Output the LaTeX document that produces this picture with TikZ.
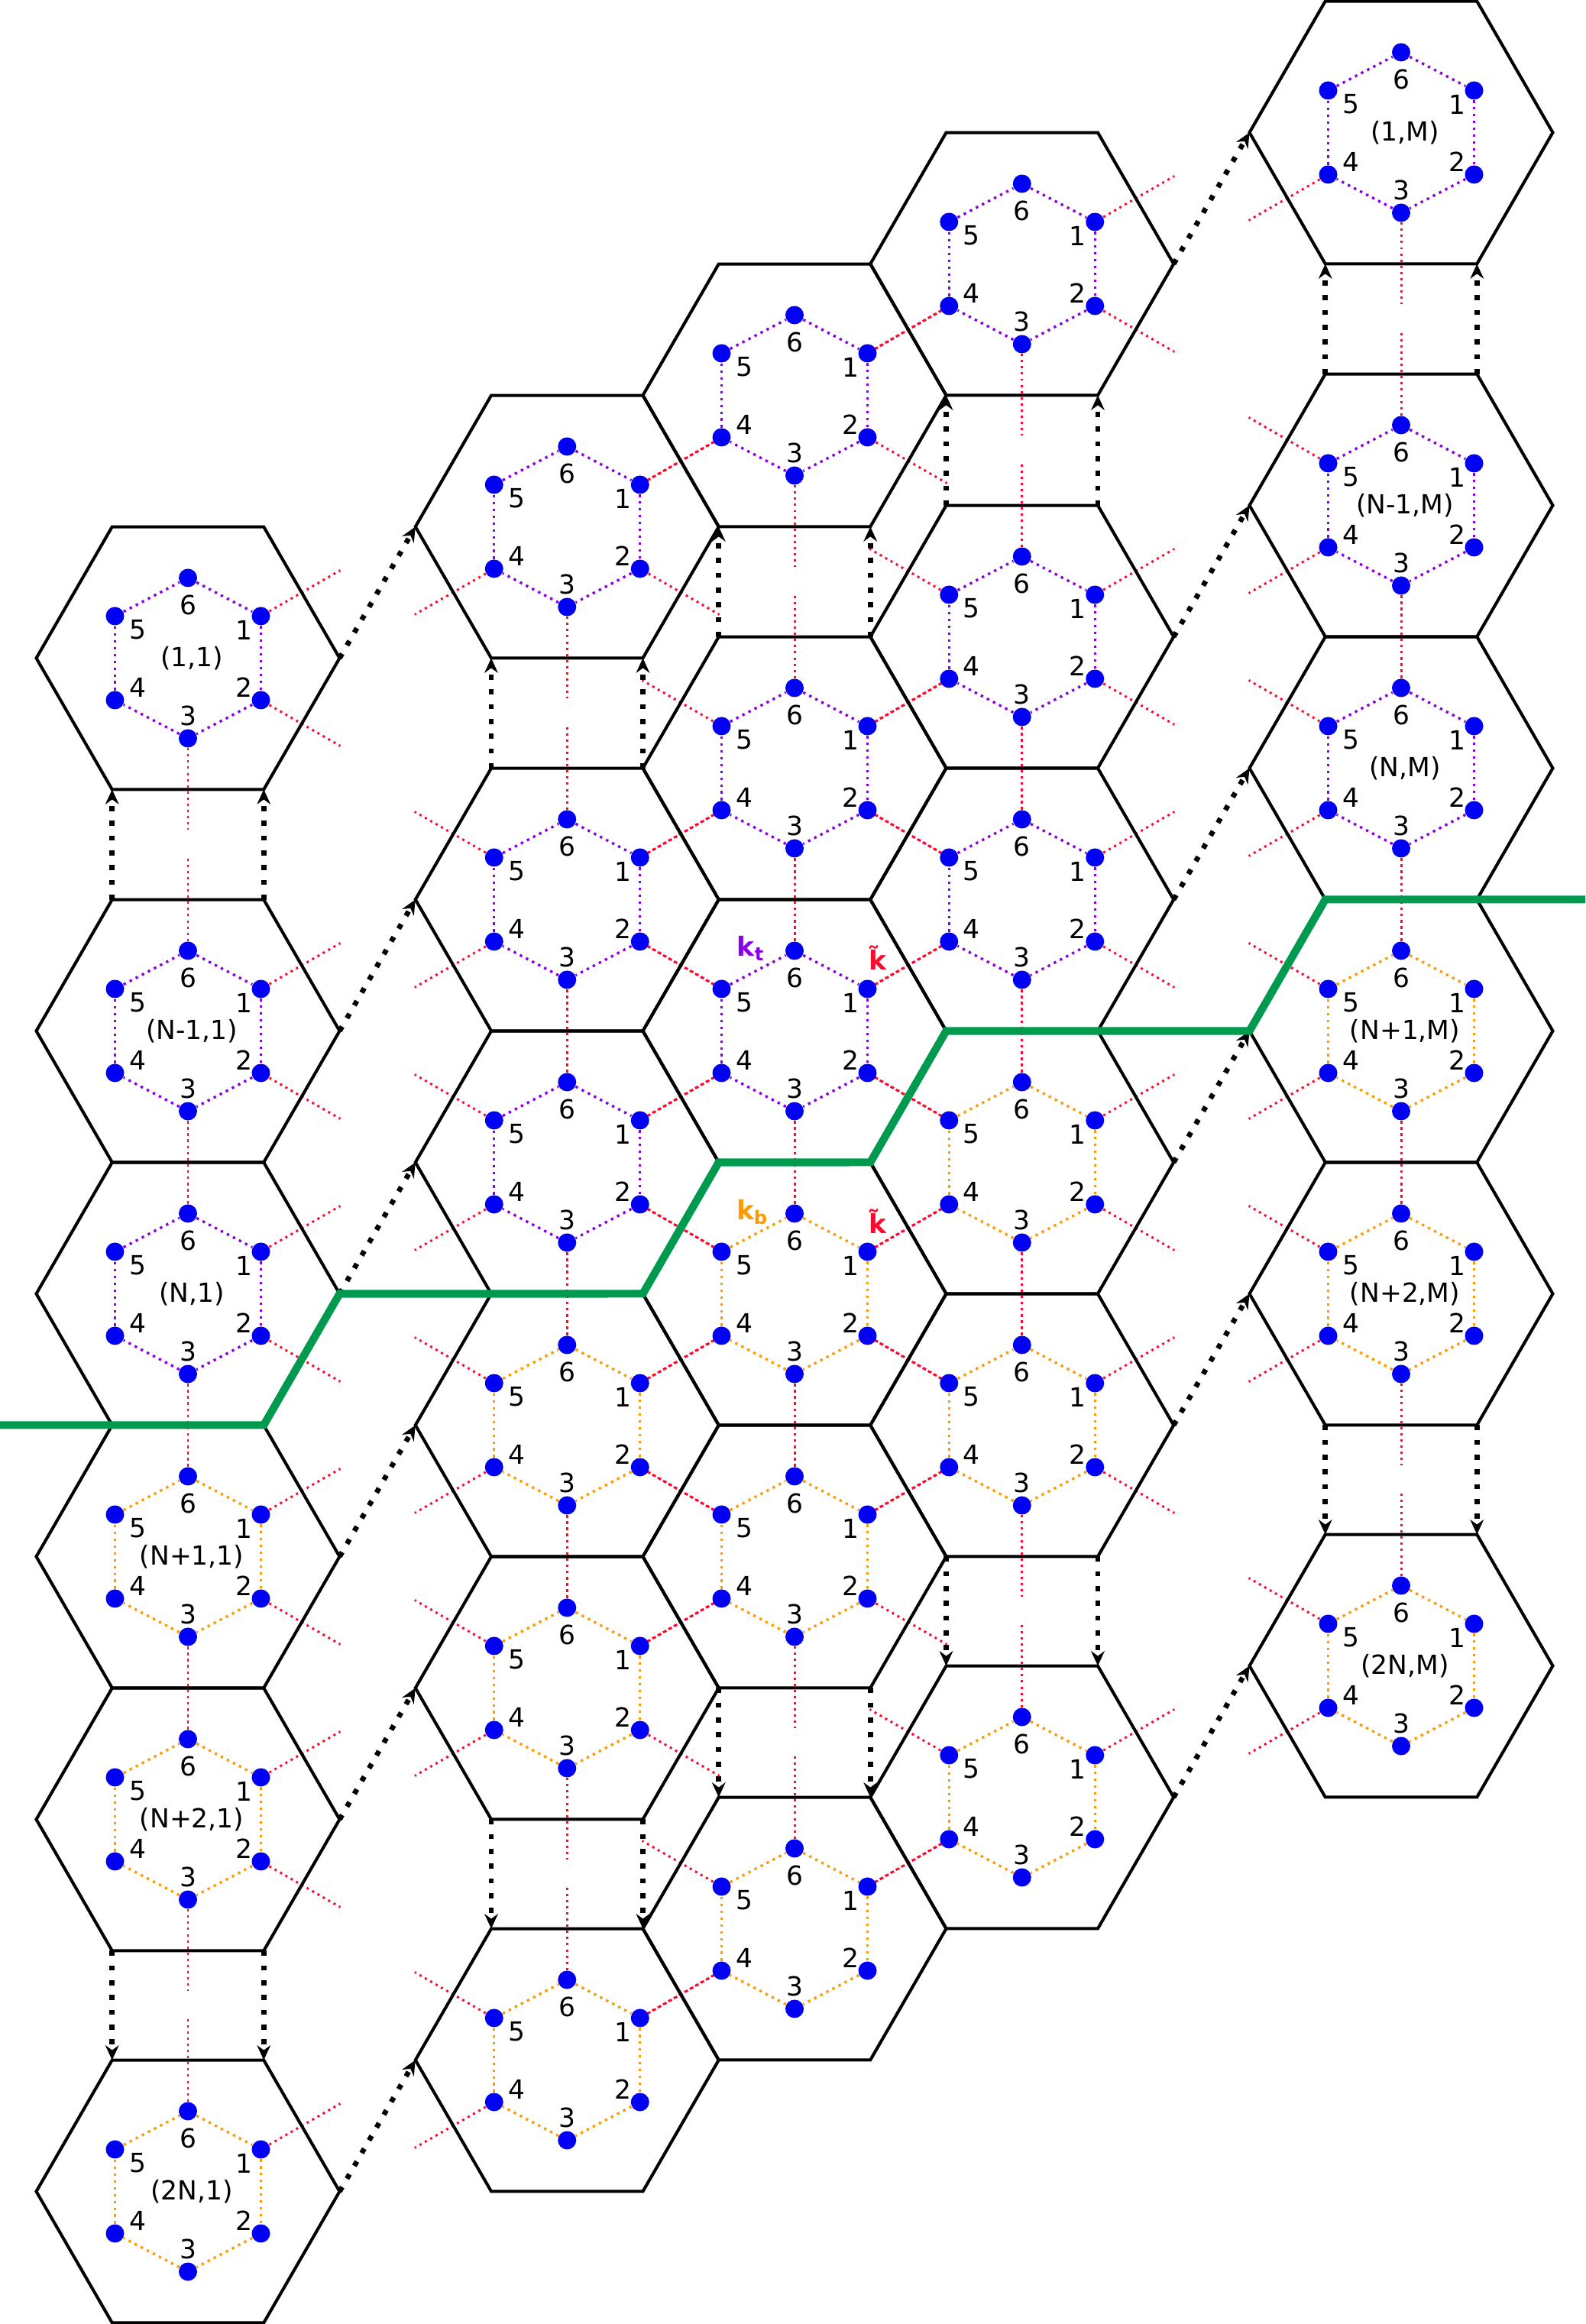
\documentclass[tikz,border=0pt]{standalone}
\usepackage{fontspec}
\setmainfont{DejaVu Sans}
\usetikzlibrary{arrows.meta,shapes.geometric,backgrounds}
\definecolor{ringtop}{HTML}{8A00E6}
\definecolor{ringbot}{HTML}{FF9A00}
\definecolor{bondred}{HTML}{FF0A2E}
\definecolor{cutgreen}{HTML}{009A4E}
\definecolor{sitedot}{HTML}{0000F5}

\begin{document}
\begin{tikzpicture}[
  cell/.style={regular polygon,regular polygon sides=6,draw,line width=1.15pt,minimum size=3.97cm,inner sep=0pt,outer sep=0pt},
  site/.style={circle,fill=sitedot,minimum size=2.4mm,inner sep=0pt},
  num/.style={inner sep=0pt,font=\fontsize{9.8}{12}\selectfont},
  kay/.style={inner sep=0pt,font=\fontsize{9.8}{12}\selectfont\bfseries},
  ring/.style={line width=0.95pt,dash pattern=on 0.95pt off 1.6pt},
  bond/.style={draw=bondred,line width=0.85pt,dash pattern=on 0.85pt off 1.45pt},
  hop/.style={line width=1.9pt,dash pattern=on 1.9pt off 3.6pt,-{Stealth[length=5.5pt,width=5pt]}},
  cut/.style={draw=cutgreen,line width=2.9pt}
]
\useasboundingbox (0,0) rectangle (20.75,30.42);
\coordinate (west) at (0,0);
\coordinate (east) at (20.75,0);

\foreach \col/\sx in {0/0,1/2.5,2/4,3/5.5,4/8}
\foreach \row/\off in {0/0,1/4.88,2/8.32,3/11.76,4/15.2,5/20.07}{
  \pgfmathsetmacro{\cx}{2.46+1.985*\sx}
  \pgfmathsetmacro{\cy}{21.805+1.72*\col-\off}
  \ifnum\row<3 \colorlet{ringc}{ringtop}\else\colorlet{ringc}{ringbot}\fi
  \node[cell] (h-\col-\row) at (\cx,\cy) {};
  \foreach \s/\dx/\dy in {1/0.955/0.55,2/0.955/-0.55,3/0/-1.05,4/-0.955/-0.55,5/-0.955/0.55,6/0/1.05}
    \node[site] (d-\col-\row-\s) at ([shift={(\dx,\dy)}]h-\col-\row.center) {};
  \foreach \s/\lx/\ly in {1/0.73/0.37,2/0.73/-0.38,3/0/-0.75,4/-0.66/-0.38,5/-0.66/0.37,6/0/0.7}
    \node[num] (n-\col-\row-\s) at ([shift={(\lx,\ly)}]h-\col-\row.center) {\s};
  \foreach \a/\b in {1/2,2/3,3/4,4/5,5/6,6/1}
    \draw[ring,draw=ringc] (d-\col-\row-\a) -- (d-\col-\row-\b);
  \begin{scope}[on background layer]
    \ifnum\col<4 \draw[bond] (d-\col-\row-1) -- ++(30:1.2); \fi
    \ifnum\col<4 \ifnum\row<5 \draw[bond] (d-\col-\row-2) -- ++(-30:1.2); \fi\fi
    \ifnum\row<5 \draw[bond] (d-\col-\row-3) -- ++(-90:1.2); \fi
    \ifnum\col>0 \draw[bond] (d-\col-\row-4) -- ++(210:1.2); \fi
    \ifnum\col>0 \ifnum\row>0 \draw[bond] (d-\col-\row-5) -- ++(150:1.2); \fi\fi
    \ifnum\row>0 \draw[bond] (d-\col-\row-6) -- ++(90:1.2); \fi
  \end{scope}
}

\foreach \col in {0,...,4}{
  \draw[hop] (h-\col-1.120) -- (h-\col-0.240);
  \draw[hop] (h-\col-1.60) -- (h-\col-0.300);
  \draw[hop] (h-\col-4.240) -- (h-\col-5.120);
  \draw[hop] (h-\col-4.300) -- (h-\col-5.60);
}
\foreach \row in {0,...,5}{
  \draw[hop] (h-0-\row.0) -- (h-1-\row.180);
  \draw[hop] (h-3-\row.0) -- (h-4-\row.180);
}

\foreach \row/\lab in {0/1,1/N-1,2/N,3/N+1,4/N+2,5/2N}{
  \node[num] (c-0-\row) at ([xshift=0.05cm]h-0-\row.center) {(\lab,1)};
  \node[num] (c-4-\row) at ([xshift=0.05cm]h-4-\row.center) {(\lab,M)};
}

\node[kay,text=ringtop] (kt) at ([shift={(-0.57,1.08)}]h-2-2.center) {k\textsubscript{t}};
\node[kay,text=bondred] (kq) at ([shift={(1.09,0.96)}]h-2-2.center) {\~{k}};
\node[kay,text=ringbot] (kb) at ([shift={(-0.55,1.07)}]h-2-3.center) {k\textsubscript{b}};
\node[kay,text=bondred] (kr) at ([shift={(1.09,0.95)}]h-2-3.center) {\~{k}};

\draw[cut] (h-0-2.300 -| west) -- (h-0-2.300) -- (h-0-2.0) -- (h-1-2.300) -- (h-1-2.0) -- (h-2-2.300) -- (h-2-2.0) -- (h-4-3.180) -- (h-4-2.240) -- (h-4-2.240 -| east);
\end{tikzpicture}
\end{document}
